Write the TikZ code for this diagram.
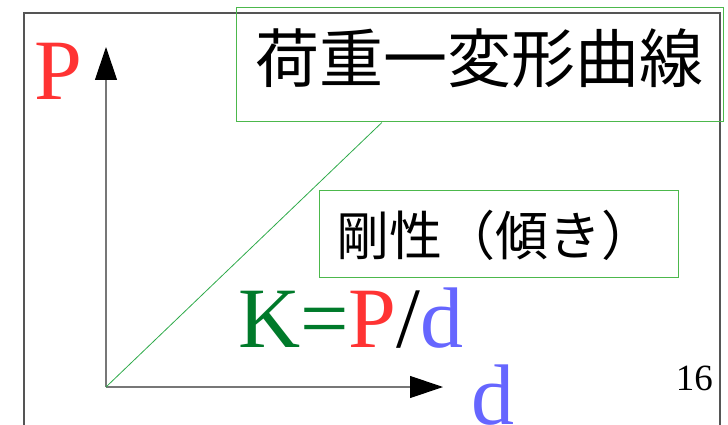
\documentclass[tikz,border=0pt]{standalone}
\usepackage{fontspec}
\setmainfont{Liberation Serif}
\newfontfamily\cjk{Noto Sans CJK JP}
\usetikzlibrary{arrows.meta,calc}
\definecolor{pred}{HTML}{FF3333}
\definecolor{dblue}{HTML}{6666FF}
\definecolor{kgreen}{HTML}{007A2A}
\definecolor{boxgreen}{HTML}{4CB84C}
\definecolor{linegreen}{HTML}{2EAA4A}
\definecolor{axisgray}{HTML}{777777}
\definecolor{framegray}{HTML}{555555}
\tikzset{
  greenbox/.style={draw=boxgreen, line width=1pt, inner sep=0pt},
  axisline/.style={draw=axisgray, line width=1.2pt, -{Triangle[length=33pt,width=22pt,fill=black,color=black]}},
  bigserif/.style={inner sep=0pt, font=\fontsize{86}{90}\selectfont},
}
\begin{document}
\begin{tikzpicture}[x=1pt,y=-1pt]
\useasboundingbox (0,0) rectangle (728,425);
% frame
\draw[framegray, line width=1.3pt] (24,440) -- (24,13) -- (720,13) -- (720,440);
% boxes
\node[greenbox, minimum width=487pt, minimum height=114pt] (title) at (479.5,65) {};
\node[inner sep=0pt, font=\cjk\fontsize{64}{68}\selectfont] (titletext) at (479,58) {荷重一変形曲線};
\node[greenbox, minimum width=359pt, minimum height=87pt] (rig) at (498.5,233.5) {};
\node[inner sep=0pt, anchor=west, font=\cjk\fontsize{53}{56}\selectfont] (rigtext) at (336,235) {剛性（傾き）};
% axes
\coordinate (O) at (106,387);
\coordinate (ytip) at (106,47);
\coordinate (xtip) at (443,387);
\draw[axisline] (O) -- (ytip);
\draw[axisline] (O) -- (xtip);
% load-deformation line
\draw[linegreen, line width=0.8pt] (O) -- ($(title.south west)!0.3!(title.south east)$);
% labels
\node[bigserif, text=pred, anchor=base west] (plabel) at (34,100) {P};
\node[bigserif, anchor=base west] (formula) at (238,347) {\textcolor{kgreen}{K}\textcolor{kgreen}{=}\textcolor{pred}{P}/\textcolor{dblue}{d}};
\node[bigserif, text=dblue, anchor=base west] (dlabel) at (471,424) {d};
\node[inner sep=0pt, anchor=base east, font=\fontsize{37}{40}\selectfont] (pageno) at (713,390) {16};
\end{tikzpicture}
\end{document}
